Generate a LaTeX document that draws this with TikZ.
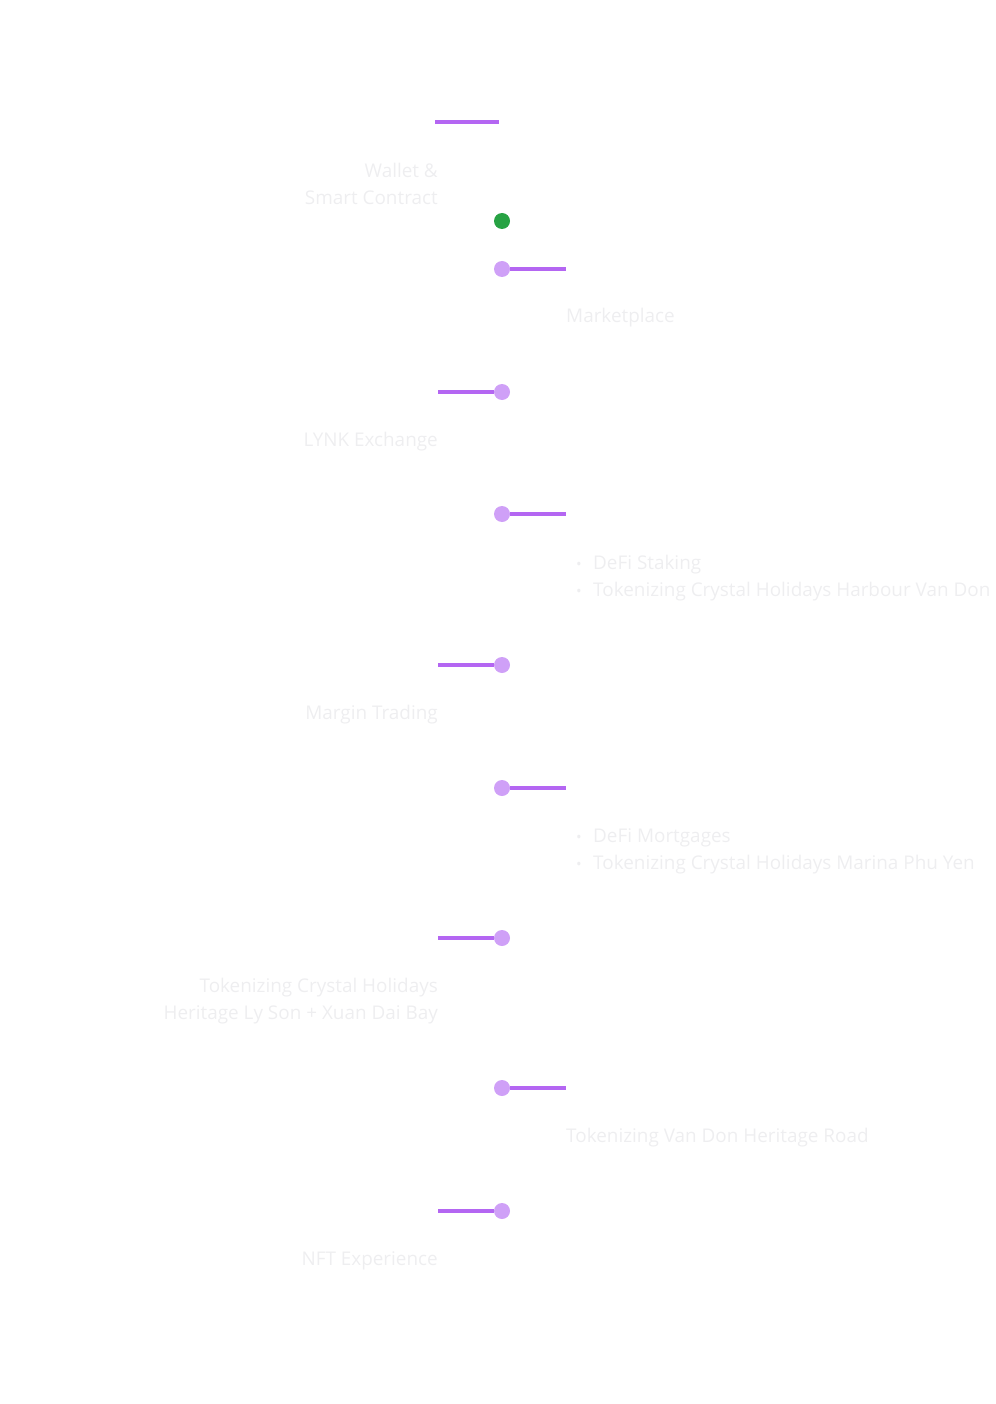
\documentclass[tikz,border=0pt]{standalone}
\usepackage{fontspec}
\setmainfont{Open Sans}
\usetikzlibrary{positioning}
\definecolor{linepurple}{HTML}{B466F2}
\definecolor{dotpurple}{HTML}{CFA0F7}
\definecolor{stepgreen}{HTML}{27A243}
\definecolor{fadetext}{HTML}{EEEEF0}

\begin{document}
\begin{tikzpicture}[
    x=1pt, y=-1pt,
    stem/.style={draw=linepurple, line width=3.5pt},
    dot/.style={
        circle, fill=dotpurple,
        inner sep=0pt,
        minimum size=16pt
    },
    lefttext/.style={
        text=fadetext, font=\fontsize{18.9}{27}\selectfont,
        align=right, anchor=base east, inner sep=0pt
    },
    righttext/.style={
        text=fadetext, font=\fontsize{18.9}{27}\selectfont,
        align=left, anchor=base west, inner sep=0pt
    }
]
\useasboundingbox (0,0) rectangle (995,1404);

% top bar and start
\coordinate (topa) at (435,122);
\coordinate (topb) at (499,122);
\draw[stem] (topa) -- (topb);
\node[lefttext] (wallet) at (438,205) {Wallet \&\\Smart Contract};
\node[dot, fill=stepgreen] (start) at (502,221) {};

% steps on the right
\foreach \y/\name in {269/r1, 514/r2, 788/r3, 1088/r4}{
    \node[dot] (\name) at (502,\y) {};
    \coordinate (\name end) at (566,\y);
    \draw[stem] (\name) -- (\name end);
}
% steps on the left
\foreach \y/\name in {392/l1, 665/l2, 938/l3, 1211/l4}{
    \node[dot] (\name) at (502,\y) {};
    \coordinate (\name end) at (438,\y);
    \draw[stem] (\name) -- (\name end);
}

\node[righttext] (market) at (566,323) {Marketplace};
\node[lefttext] (lynk) at (438,446) {LYNK Exchange};
\node[righttext] (staking) at (593,569) {DeFi Staking};
\node[righttext] (harbour) at (593,596) {Tokenizing Crystal Holidays Harbour Van Don};
\node[lefttext] (margin) at (438,719) {Margin Trading};
\node[righttext] (mortgage) at (593,842) {DeFi Mortgages};
\node[righttext] (marina) at (593,869) {Tokenizing Crystal Holidays Marina Phu Yen};
\node[lefttext] (heritage) at (438,1019) {Tokenizing Crystal Holidays\\Heritage Ly Son + Xuan Dai Bay};
\node[righttext] (road) at (566,1142) {Tokenizing Van Don Heritage Road};
\node[lefttext] (nft) at (438,1265) {NFT Experience};

% bullets
\foreach \t in {staking, harbour, mortgage, marina}{
    \node[text=fadetext, font=\fontsize{15}{15}\selectfont, anchor=base, inner sep=0pt]
        (\t bullet) at ([xshift=-14pt]\t.base west) {•};
}
\end{tikzpicture}
\end{document}
